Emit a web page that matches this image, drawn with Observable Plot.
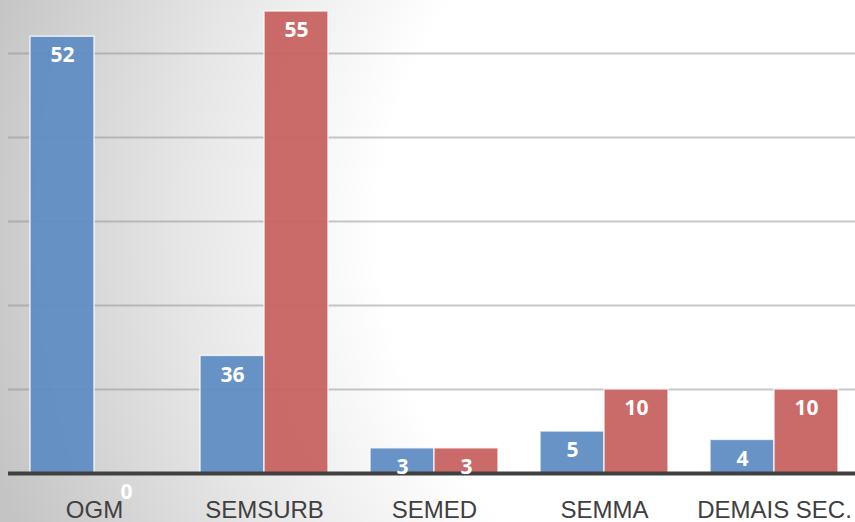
<!DOCTYPE html>
<html>
<head>
<meta charset="utf-8">
<script src="https://cdn.jsdelivr.net/npm/d3@7"></script>
<script src="https://cdn.jsdelivr.net/npm/@observablehq/plot@0.6"></script>
<style>
  html, body { margin: 0; padding: 0; background: #fff; }
  #chart svg { display: block; }
</style>
</head>
<body>
<div id="chart"></div>
<script>
// Categories (x axis)
const categories = ["OGM", "SEMSURB", "SEMED", "SEMMA", "DEMAIS SEC."];
// Blue series: bar heights as drawn, and data labels as printed
const blueValues = [52, 14, 3, 5, 4];
const blueLabels = ["52", "36", "3", "5", "4"];
// Red series: bar heights as drawn, and data labels as printed
const redValues = [0, 55, 3, 10, 10];
const redLabels = ["0", "55", "3", "10", "10"];
// Gridline tick values
const gridTicks = [10, 20, 30, 40, 50];

const blue = categories.map((c, i) => ({cat: c, value: blueValues[i], label: blueLabels[i]}));
const red = categories.map((c, i) => ({cat: c, value: redValues[i], label: redLabels[i]}));

const BLUE = "#5d8cc2";
const RED = "#c86260";
const half = 64;

const chart = Plot.plot({
  width: 855,
  height: 522,
  marginLeft: 8,
  marginRight: 0,
  marginTop: 0,
  marginBottom: 49,
  style: {
    background: "radial-gradient(820px circle at 780px 230px, #ffffff 0px, #ffffff 400px, #e6e6e6 600px, #c4c4c4 820px)",
    fontFamily: "'Liberation Sans', Arial, sans-serif"
  },
  x: {domain: categories, range: [9, 859], paddingInner: 0.247, paddingOuter: 0.1235, label: null},
  y: {domain: [0, 60], range: [473, -31], axis: null},
  marks: [
    Plot.ruleY(gridTicks, {stroke: "#8f8f8f", strokeOpacity: 0.5, strokeWidth: 2}),
    Plot.barY(blue, {x: "cat", y: "value", insetRight: half, fill: BLUE, fillOpacity: 0.94, stroke: "white", strokeWidth: 1.5, strokeOpacity: 0.75}),
    Plot.barY(red, {x: "cat", y: "value", insetLeft: half, fill: RED, fillOpacity: 0.94, stroke: "white", strokeWidth: 1.5, strokeOpacity: 0.75}),
    Plot.ruleY([0], {stroke: "#404040", strokeWidth: 4}),
    Plot.axisX({tickSize: 0, tickPadding: 27, fontSize: 24, color: "#404040", label: null}),
    Plot.text(blue, {x: "cat", y: "value", text: "label", dx: -half / 2, dy: 19, lineAnchor: "middle", fill: "white", fontSize: 21, fontWeight: "bold", fontFamily: "'Open Sans', sans-serif"}),
    Plot.text(red, {x: "cat", y: "value", text: "label", dx: half / 2, dy: 19, lineAnchor: "middle", fill: "white", fontSize: 21, fontWeight: "bold", fontFamily: "'Open Sans', sans-serif"})
  ]
});

document.getElementById("chart").appendChild(chart);
</script>
</body>
</html>
